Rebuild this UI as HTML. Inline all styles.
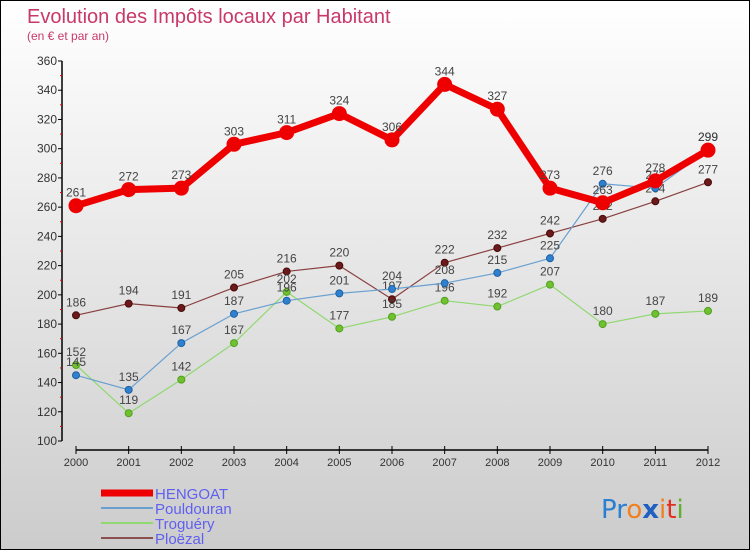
<!DOCTYPE html>
<html><head><meta charset="utf-8"><style>
body{margin:0}
#c{width:748px;height:548px;border:1px solid #000;background:linear-gradient(#fff,#ccc);position:relative;font-family:"Liberation Sans",sans-serif;overflow:hidden}
svg{position:absolute;left:0;top:0}
</style></head><body>
<div id="c">
<svg id="s" width="750" height="550">
<text x="26" y="22" font-size="20" fill="#c8386a">Evolution des Impôts locaux par Habitant</text>
<text x="26" y="39" font-size="12" fill="#c8386a">(en € et par an)</text>
<text x="600" y="517" font-size="26" font-family="DejaVu Sans"><tspan fill="#2a7fd0">Pr</tspan><tspan fill="#f08020">o</tspan><tspan fill="#2060c0" font-weight="bold">x</tspan><tspan fill="#f08020">i</tspan><tspan fill="#e03020">t</tspan><tspan fill="#60b030">i</tspan></text>
</svg>
</div>
<script>
const years=[2000,2001,2002,2003,2004,2005,2006,2007,2008,2009,2010,2011,2012];
const hengoat=[261,272,273,303,311,324,306,344,327,273,263,278,299];
const pouldouran=[145,135,167,187,196,201,204,208,215,225,276,273,299];
const troguery=[152,119,142,167,202,177,185,196,192,207,180,187,189];
const ploezal=[186,194,191,205,216,220,197,222,232,242,252,264,277];
const yTicks=[100,120,140,160,180,200,220,240,260,280,300,320,340,360];
const NS="http://www.w3.org/2000/svg";
const s=document.getElementById('s');
const X=i=>75+i*(632/12);
const Y=v=>440-(v-100)*(380/260);
function el(t,a,p){const e=document.createElementNS(NS,t);for(const k in a)e.setAttribute(k,a[k]);(p||s).appendChild(e);return e;}
// axes
const ax=el('g',{});


el('line',{x1:61,y1:60,x2:61,y2:440,stroke:'#000','stroke-width':1.5},ax);
el('line',{x1:75,y1:449,x2:707,y2:449,stroke:'#000','stroke-width':1.5},ax);
yTicks.forEach((v,i)=>{
 el('line',{x1:57,y1:Y(v),x2:61,y2:Y(v),stroke:'#000'},ax);
 if(i<yTicks.length-1) el('line',{x1:59,y1:Y(v+10),x2:61,y2:Y(v+10),stroke:'#e00'},ax);
 const t=el('text',{x:56,y:Y(v)+4,'font-size':12,fill:'#333','text-anchor':'end'},ax);
 t.textContent=v;
 
 
});
years.forEach((y,i)=>{
 el('line',{x1:X(i),y1:445,x2:X(i),y2:453,stroke:'#000'},ax);
 const t=el('text',{x:X(i),y:465,'font-size':11,fill:'#333','text-anchor':'middle'},ax);
 t.textContent=y;
 
 
});
function series(data,name,col,w,r,fill,stroke){
 const g=el('g',{});
 
 
 el('polyline',{points:data.map((v,i)=>X(i)+','+Y(v)).join(' '),fill:'none',stroke:col,'stroke-width':w,'stroke-linejoin':'round'},g);
 data.forEach((v,i)=>{
  const c=el('circle',{cx:X(i),cy:Y(v),r:r,fill:fill,stroke:stroke,'stroke-width':1},g);
  
  
  const t=el('text',{x:X(i),y:Y(v)-9,'font-size':12,fill:'#444','text-anchor':'middle'},g);
  t.textContent=v;
  
  
 });
}
series(ploezal,'ploezal','#8a4040',1.2,3.5,'#6a1a1a','#4a0a0a');
series(troguery,'troguery','#90d870',1.2,3.5,'#70c030','#50a020');
series(pouldouran,'pouldouran','#6aa0d0',1.2,3.5,'#3080d0','#2060a0');
series(hengoat,'hengoat','#ee0000',7,7,'#ee0000','#ee0000');
// redraw pouldouran 2012 dot on top
// legend
const L=[['HENGOAT','#ee0000',7],['Pouldouran','#6aa0d0',2],['Troguéry','#90d870',2],['Ploëzal','#8a5050',2]];
L.forEach((l,i)=>{
 const g=el('g',{});
 
 
 const y=492+i*15;
 el('line',{x1:100,y1:y,x2:152,y2:y,stroke:l[1],'stroke-width':l[2]},g);
 const t=el('text',{x:154,y:y+6,'font-size':15,fill:'#6060f0'},g);
 t.textContent=l[0];
});
</script>
</body></html>
